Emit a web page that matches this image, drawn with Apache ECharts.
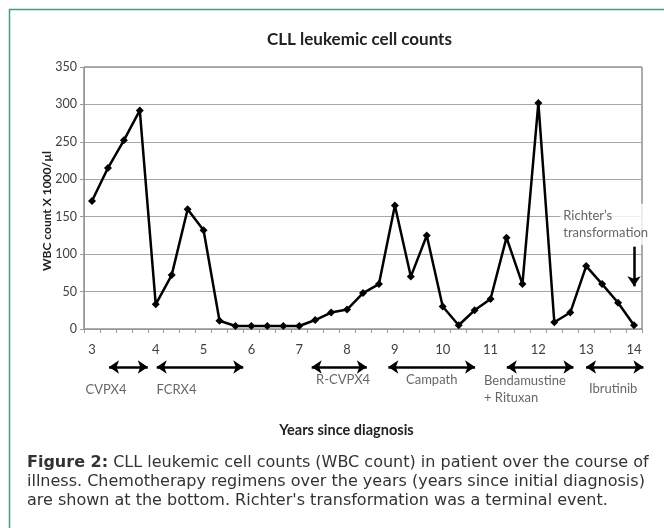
<!DOCTYPE html>
<html>
<head>
<meta charset="utf-8">
<script src="https://cdn.jsdelivr.net/npm/echarts@6/dist/echarts.min.js"></script>
<style>
html,body{margin:0;padding:0;background:#fff}
#main{width:664px;height:528px}
</style>
</head>
<body>
<div id="main"></div>
<script>
// sample number (one category per blood count)
var samples = ['1','2','3','4','5','6','7','8','9','10','11','12','13','14','15','16','17','18',
	'19','20','21','22','23','24','25','26','27','28','29','30','31','32','33','34','35'];
// WBC count X 1000/ul
var wbc = [171,215,252,292,33,72,160,132,11,4,4,4,4,4,12,22,26,48,60,165,70,125,30,5,25,40,122,60,302,9,22,84,60,35,5];
// year labels under the axis, and the sample they sit under
var yearTickIdx = [0,4,7,10,13,16,19,22,25,28,31,34];
var yearTickText = ['3','4','5','6','7','8','9','10','11','12','13','14'];
// chemotherapy regimens (span in sample positions)
var regimenNames = ['CVPX4','FCRX4','R-CVPX4','Campath','Bendamustine\n+ Rituxan','Ibrutinib'];
var regimenFrom = [1.07,4.06,13.78,18.59,26.02,30.99];
var regimenTo = [3.5,9.49,17.24,24.03,30.2,34.59];
// Richter's transformation arrow (sample, from, to)
var richter = {idx:34, from:110, to:57};

var txt = '#404040';
var font = 'Lato';

// regimen label placement in the strip under the axis
var labelPos = [[0.88,35,'center'],[5.3,35,'center'],[15.75,25,'center'],[21.31,25,'center'],[24.59,34,'left'],[32.69,34,'center']];

var arrowData = [];
var labelData = [];
for (var i = 0; i < regimenNames.length; i++) {
	arrowData.push({coords:[[regimenFrom[i],12],[regimenTo[i],12]]});
	labelData.push({
		name: regimenNames[i],
		value: [labelPos[i][0], labelPos[i][1]],
		label: {align: labelPos[i][2]}
	});
}

var chart = echarts.init(document.getElementById('main'));
var option = {
	animation: false,
	backgroundColor: '#fff',
	graphic: [{
		type: 'rect', left: 7, top: 7, silent: true,
		shape: {width: 720, height: 600},
		style: {fill: 'none', stroke: '#2aa68f', lineWidth: 1.5}
	}],
	title: [{
		text: 'CLL leukemic cell counts',
		left: 262, top: 26,
		textStyle: {fontFamily: font, fontWeight: 'bold', fontSize: 17, color: '#222'}
	}, {
		text: '{b|Figure 2:} CLL leukemic cell counts (WBC count) in patient over the course of\nillness. Chemotherapy regimens over the years (years since initial diagnosis)\nare shown at the bottom. Richter\'s transformation was a terminal event.',
		left: 22, top: 448,
		textStyle: {
			fontFamily: 'DejaVu Sans', fontSize: 16, color: '#333', lineHeight: 19, fontWeight: 'normal',
			rich: {b: {fontFamily: 'DejaVu Sans', fontSize: 16, fontWeight: 'bold', color: '#333', lineHeight: 19}}
		}
	}],
	grid: [{
		left: 84, right: 22, top: 67, bottom: 199,
		show: true, borderColor: '#595959', borderWidth: 1
	}, {
		left: 84, right: 22, top: 355, height: 60
	}],
	xAxis: [{
		type: 'category', data: samples, gridIndex: 0,
		name: 'Years since diagnosis', nameLocation: 'middle', nameGap: 94,
		nameTextStyle: {fontFamily: font, fontWeight: 'bold', fontSize: 14.5, color: '#222', padding: [0,33,0,0]},
		axisLine: {lineStyle: {color: '#999'}},
		axisTick: {show: true, interval: 0, length: 4, lineStyle: {color: '#999'}},
		axisLabel: {
			interval: 0, margin: 14, fontFamily: font, fontSize: 13, color: txt,
			formatter: function(v, i){
				var k = yearTickIdx.indexOf(i);
				return k >= 0 ? yearTickText[k] : '';
			}
		},
		splitLine: {show: false}
	}, {
		type: 'value', gridIndex: 1, min: -0.5, max: 34.5, show: false
	}],
	yAxis: [{
		type: 'value', gridIndex: 0, min: 0, max: 350, interval: 50,
		name: 'WBC count X 1000/\u00b5l', nameLocation: 'middle', nameGap: 31, nameMoveOverlap: false,
		nameTextStyle: {fontFamily: font, fontWeight: 'bold', fontSize: 12, color: '#222', padding: [0,26,0,0]},
		axisLine: {show: true, lineStyle: {color: '#999'}},
		axisTick: {show: true, length: 4, lineStyle: {color: '#999'}},
		axisLabel: {margin: 7, fontFamily: font, fontSize: 12.5, color: txt},
		splitLine: {lineStyle: {color: '#a6a6a6'}}
	}, {
		type: 'value', gridIndex: 1, min: 0, max: 60, inverse: true, show: false
	}],
	series: [{
		name: 'WBC', type: 'line', data: wbc,
		xAxisIndex: 0, yAxisIndex: 0,
		symbol: 'diamond', symbolSize: 8,
		lineStyle: {color: '#000', width: 2.5},
		itemStyle: {color: '#000'},
		markLine: {
			silent: true, symbol: ['none','arrow'], symbolSize: 10,
			label: {show: false},
			lineStyle: {color: '#000', width: 2.5, type: 'solid'},
			data: [[{coord:[richter.idx, richter.from]},{coord:[richter.idx, richter.to]}]]
		}
	}, {
		name: 'richterText', type: 'scatter', xAxisIndex: 0, yAxisIndex: 0,
		symbolSize: 0, z: 5,
		data: [{name: 'Richter\u2019s\ntransformation', value: [30, 140]}],
		label: {
			show: true, position: 'inside', align: 'left', offset: [-10, 0],
			formatter: '{b}', fontFamily: font, fontSize: 13, color: txt, lineHeight: 17.5,
			backgroundColor: '#fff', padding: [3, 3]
		}
	}, {
		name: 'regimens', type: 'lines', coordinateSystem: 'cartesian2d',
		xAxisIndex: 1, yAxisIndex: 1,
		symbol: ['arrow','arrow'], symbolSize: 10,
		lineStyle: {color: '#000', width: 2.5, opacity: 1},
		data: arrowData
	}, {
		name: 'regimenNames', type: 'scatter', xAxisIndex: 1, yAxisIndex: 1,
		symbolSize: 0,
		data: labelData,
		label: {
			show: true, position: 'inside', formatter: '{b}',
			fontFamily: font, fontSize: 13, color: txt, lineHeight: 17
		}
	}]
};
chart.setOption(option);
</script>
</body>
</html>
